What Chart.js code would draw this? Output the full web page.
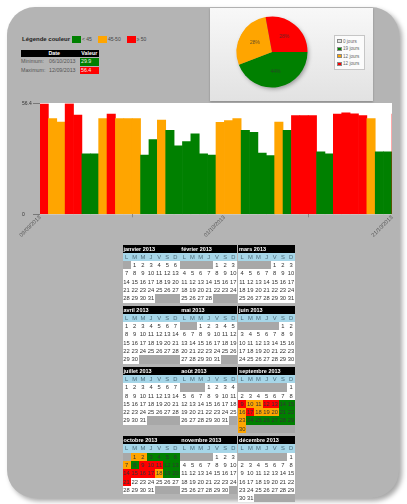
<!DOCTYPE html>
<html lang="fr">
<head>
<meta charset="utf-8">
<title>Suivi journalier 2013</title>
<script src="https://cdn.jsdelivr.net/npm/chart.js@4.4.1/dist/chart.umd.min.js"></script>
<style>
  html, body { margin: 0; padding: 0; background: #fff; }
  body { width: 407px; height: 504px; position: relative; overflow: hidden; font-family: "Liberation Sans", Arial, sans-serif; }
  #carte { position: absolute; left: 7px; top: 7px; width: 392px; height: 491px; background: #b4b4b4; border-radius: 28px; box-shadow: 3px 3px 5px rgba(0,0,0,.35); }
  #legende { position: absolute; left: 22px; top: 35px; height: 8px; display: flex; align-items: center; white-space: nowrap; }
  #legende b { font-size: 6px; color: #222; margin-right: 2px; }
  #legende i { display: inline-block; width: 9px; height: 7px; margin-right: 1px; }
  #legende span { font-size: 5px; color: #444; margin-right: 6px; }
  #extremes { position: absolute; left: 21px; top: 49px; width: 78px; border-collapse: separate; border-spacing: 0 1.2px; font-size: 5.3px; }
  #extremes th { background: #000; color: #fff; height: 7.3px; padding: 0; line-height: 7.3px; }
  #extremes td { height: 7.3px; padding: 0; line-height: 7.3px; color: #555; white-space: nowrap; }
  #extremes td.val { color: #eee; padding-left: 1.5px; width: 18px; }
  #panneau { position: absolute; left: 210px; top: 8px; width: 163px; height: 93px; background: linear-gradient(#f8f8f8, #e2e2e2); box-shadow: 0 1px 2px rgba(0,0,0,.25); }
  #camembert { position: absolute; left: 230px; top: 10px; }
  #legendePie { position: absolute; left: 334px; top: 35px; width: 27px; padding: 1.5px 0 0 1.5px; height: 31px; background: #fbfbfb; border: 1px solid #c6c6c6; }
  #legendePie div { height: 7.5px; display: flex; align-items: center; font-size: 4.6px; color: #666; white-space: nowrap; }
  #legendePie i { display: inline-block; width: 5px; height: 4px; margin-right: 1.5px; border: 0.5px solid #888; box-sizing: border-box; }
  #barres { position: absolute; left: 0; top: 92px; }
  #calendrier { position: absolute; left: 122.5px; top: 244.5px; display: grid; grid-template-columns: repeat(3, 57px); column-gap: 0.8px; row-gap: 3px; align-items: start; }
  .mois { width: 57px; border-collapse: collapse; table-layout: fixed; font-size: 5.8px; }
  .mois th, .mois td { height: 8.3px; padding: 0; line-height: 8.3px; overflow: hidden; white-space: nowrap; }
  .mois th { background: #000; color: #fff; text-align: left; padding-left: 1px; font-weight: bold; font-size: 5.5px; }
  .mois td { text-align: center; color: #333; }
  .mois tr.jours td { background: #a6d6e8; color: #4c6b7a; }
  .mois td.vide { background: #a8a8a8; }
  .mois td.jour { background: #fff; }
</style>
</head>
<body>
<div id="carte"></div>

<div id="legende"></div>
<table id="extremes">
  <tr><th colspan="2" style="padding-left:8px">Date</th><th>Valeur</th></tr>
  <tr><td>Minimum:</td><td id="dateMin"></td><td class="val" id="valMin"></td></tr>
  <tr><td>Maximum:</td><td id="dateMax"></td><td class="val" id="valMax"></td></tr>
</table>

<div id="panneau"></div>
<canvas id="camembert" width="84" height="84"></canvas>
<div id="legendePie"></div>

<canvas id="barres" width="400" height="150"></canvas>

<div id="calendrier"></div>

<script>
// Mesures journalières du 09/09/2013 au 21/10/2013
const debut = new Date(2013, 8, 9);
const valeurs = [
  56.2, 48.7, 47.0, 56.4, 50.5, 30.8, 30.8,   // 09/09 - 15/09
  48.7, 51.0, 48.7, 48.7, 48.7, 30.1, 38.0,   // 16/09 - 22/09
  47.9, 42.8, 34.9, 37.0, 40.9, 30.8, 30.2,   // 23/09 - 29/09
  46.8, 47.7, 48.7, 42.8, 41.7, 31.2, 29.9,   // 30/09 - 06/10
  47.0, 42.8, 50.2, 50.2, 50.2, 31.8, 30.8,   // 07/10 - 13/10
  51.0, 51.6, 51.2, 50.3, 48.7, 31.8, 31.8,   // 14/10 - 20/10
  51.0                                        // 21/10
];
const seuils = [45, 50];
const libellesSeuils = ['< 45', '45-50', '≥ 50'];
const joursSansMesure = 0;
const ticksJours = [0, 22, 42];
const moisNoms = ['janvier', 'février', 'mars', 'avril', 'mai', 'juin', 'juillet', 'août', 'septembre', 'octobre', 'novembre', 'décembre'];
const initiales = ['L', 'M', 'M', 'J', 'V', 'S', 'D'];

const VERT = '#008000', ORANGE = '#ffa500', ROUGE = '#ff0000', GRIS = '#e2e2e2';
const couleursSeuils = [VERT, ORANGE, ROUGE];

Chart.defaults.font.family = '"Liberation Sans", Arial, sans-serif';

function classe(v) {
  if (v < seuils[0]) return 0;
  if (v < seuils[1]) return 1;
  return 2;
}
function couleurDe(v) { return couleursSeuils[classe(v)]; }
function ajoutJours(d, n) { return new Date(d.getFullYear(), d.getMonth(), d.getDate() + n); }
function fmt(d) {
  const p = n => String(n).padStart(2, '0');
  return p(d.getDate()) + '/' + p(d.getMonth() + 1) + '/' + d.getFullYear();
}

// légende des couleurs
const legende = document.getElementById('legende');
legende.innerHTML = '<b>Légende couleur</b>' + couleursSeuils.map((c, i) =>
  `<i style="background:${c}"></i><span>${libellesSeuils[i]}</span>`).join('');

// minimum / maximum
const vMax = Math.max(...valeurs), vMin = Math.min(...valeurs);
const iMax = valeurs.indexOf(vMax), iMin = valeurs.indexOf(vMin);
document.getElementById('dateMin').textContent = fmt(ajoutJours(debut, iMin));
document.getElementById('dateMax').textContent = fmt(ajoutJours(debut, iMax));
const cMin = document.getElementById('valMin'), cMax = document.getElementById('valMax');
cMin.textContent = vMin.toFixed(1); cMin.style.background = couleurDe(vMin);
cMax.textContent = vMax.toFixed(1); cMax.style.background = couleurDe(vMax);

// répartition des jours par classe
const repartition = [joursSansMesure, 0, 0, 0];
valeurs.forEach(v => repartition[classe(v) + 1]++);
const couleursPie = [GRIS, VERT, ORANGE, ROUGE];
const total = repartition.reduce((a, b) => a + b, 0);

document.getElementById('legendePie').innerHTML = repartition.map((n, i) =>
  `<div><i style="background:${couleursPie[i]}"></i>${n} jours</div>`).join('');

const ombrePie = {
  id: 'ombrePie',
  beforeDatasetsDraw(chart) {
    const arc = chart.getDatasetMeta(0).data[0];
    const { x, y, outerRadius } = arc.getProps(['x', 'y', 'outerRadius'], true);
    const ctx = chart.ctx;
    ctx.save();
    ctx.shadowColor = 'rgba(0,0,0,0.35)';
    ctx.shadowBlur = 4;
    ctx.shadowOffsetX = 1.5;
    ctx.shadowOffsetY = 2;
    ctx.fillStyle = '#888';
    ctx.beginPath();
    ctx.arc(x, y, outerRadius - 0.5, 0, Math.PI * 2);
    ctx.fill();
    ctx.restore();
  }
};

const pourcentages = {
  id: 'pourcentages',
  afterDatasetsDraw(chart) {
    const ctx = chart.ctx;
    const data = chart.data.datasets[0].data;
    ctx.save();
    ctx.font = '5px "Liberation Sans", Arial, sans-serif';
    ctx.fillStyle = 'rgba(50,50,50,0.75)';
    ctx.textAlign = 'center';
    ctx.textBaseline = 'middle';
    chart.getDatasetMeta(0).data.forEach((arc, i) => {
      if (!data[i]) return;
      const p = arc.getProps(['x', 'y', 'startAngle', 'endAngle', 'outerRadius'], true);
      const a = (p.startAngle + p.endAngle) / 2;
      const r = p.outerRadius * 0.55;
      ctx.fillText(Math.round(data[i] / total * 100) + '%', p.x + Math.cos(a) * r, p.y + Math.sin(a) * r);
    });
    ctx.restore();
  }
};

new Chart(document.getElementById('camembert'), {
  type: 'pie',
  data: {
    labels: repartition.map(n => n + ' jours'),
    datasets: [{ data: repartition, backgroundColor: couleursPie, borderWidth: 0 }]
  },
  options: {
    responsive: false,
    animation: false,
    rotation: 90,
    layout: { padding: 6.5 },
    plugins: { legend: { display: false }, tooltip: { enabled: false } }
  },
  plugins: [ombrePie, pourcentages]
});

// fond blanc de la zone de tracé
const fondBlanc = {
  id: 'fondBlanc',
  beforeDraw(chart) {
    const a = chart.chartArea;
    chart.ctx.save();
    chart.ctx.fillStyle = '#fff';
    chart.ctx.fillRect(a.left, a.top - 0.5, a.right - a.left, a.bottom - a.top + 0.5);
    chart.ctx.restore();
  }
};

// une barre par jour, du début du jour au lendemain
new Chart(document.getElementById('barres'), {
  type: 'bar',
  data: {
    datasets: [{
      data: valeurs.map((v, i) => ({ x: i + 0.5, y: v })),
      backgroundColor: valeurs.map(couleurDe),
      borderWidth: 0,
      barPercentage: 1,
      categoryPercentage: 1
    }]
  },
  options: {
    responsive: false,
    animation: false,
    layout: { padding: { left: 22, right: 8, top: 11.5, bottom: 0 } },
    plugins: { legend: { display: false }, tooltip: { enabled: false } },
    scales: {
      x: {
        type: 'linear',
        min: 0,
        max: ticksJours[ticksJours.length - 1],
        offset: false,
        afterBuildTicks: s => { s.ticks = ticksJours.map(v => ({ value: v })); },
        afterFit: s => { s.height = 27.7; },
        ticks: {
          minRotation: 45, maxRotation: 45, autoSkip: false,
          font: { size: 5.5 }, color: '#555', padding: -3,
          callback: v => fmt(ajoutJours(debut, v))
        },
        grid: { drawOnChartArea: false, tickLength: 3, color: '#888' },
        border: { display: false }
      },
      y: {
        min: 0,
        max: vMax,
        afterBuildTicks: s => { s.ticks = [{ value: 0 }, { value: vMax }]; },
        afterFit: s => { s.width = 18; },
        ticks: {
          crossAlign: 'far', font: { size: 5 }, color: '#333', padding: 1,
          callback: v => v === 0 ? '0' : v.toFixed(1)
        },
        grid: { drawOnChartArea: false, tickLength: 7, color: '#777' },
        border: { display: false }
      }
    }
  },
  plugins: [fondBlanc]
});

// calendrier annuel, jours colorés selon la mesure
const cal = document.getElementById('calendrier');
moisNoms.forEach((nom, m) => {
  const premier = new Date(2013, m, 1);
  const decal = (premier.getDay() + 6) % 7;
  const nbJours = new Date(2013, m + 1, 0).getDate();
  const semaines = Math.ceil((decal + nbJours) / 7);
  let html = `<tr><th colspan="7">${nom} 2013</th></tr>`;
  html += '<tr class="jours">' + initiales.map(l => `<td>${l}</td>`).join('') + '</tr>';
  for (let s = 0; s < semaines; s++) {
    html += '<tr>';
    for (let j = 0; j < 7; j++) {
      const jour = s * 7 + j - decal + 1;
      if (jour < 1 || jour > nbJours) {
        html += '<td class="vide"></td>';
        continue;
      }
      const idx = Math.round((new Date(2013, m, jour) - debut) / 86400000);
      const style = idx >= 0 && idx < valeurs.length ? ` style="background:${couleurDe(valeurs[idx])}"` : '';
      html += `<td class="jour"${style}>${jour}</td>`;
    }
    html += '</tr>';
  }
  const t = document.createElement('table');
  t.className = 'mois';
  t.innerHTML = html;
  cal.appendChild(t);
});
</script>
</body>
</html>
